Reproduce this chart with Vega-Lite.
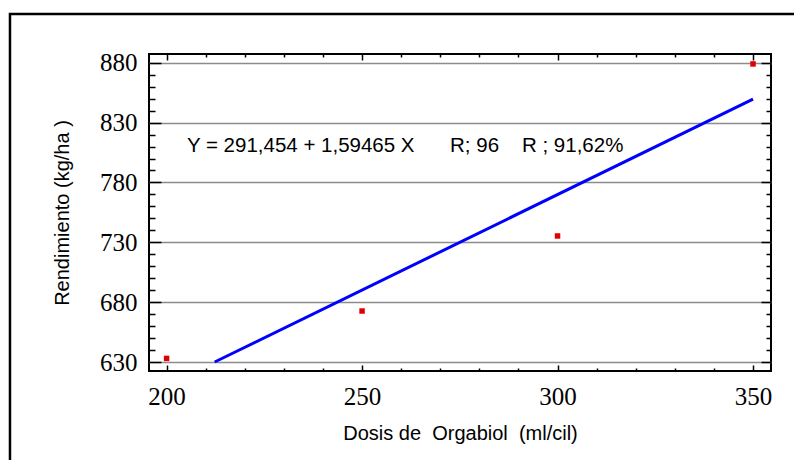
{
  "$schema": "https://vega.github.io/schema/vega-lite/v6.json",
  "width": 622,
  "height": 317,
  "autosize": "none",
  "padding": {"left": 149, "top": 54, "right": 23, "bottom": 89},
  "background": "white",
  "config": {
    "view": {"stroke": "black", "strokeWidth": 2},
    "axis": {
      "labelFont": "Liberation Serif",
      "labelFontSize": 25,
      "labelColor": "black",
      "labelFlush": false,
      "labelOverlap": false,
      "titleFont": "Liberation Sans",
      "titleFontSize": 20,
      "titleFontWeight": "normal",
      "titleColor": "black",
      "tickColor": "black",
      "tickWidth": 1.5,
      "domain": false
    }
  },
  "datasets": {
    "obs": [
      {"dosis": 200, "rend": 633},
      {"dosis": 250, "rend": 672.6},
      {"dosis": 300, "rend": 735.3},
      {"dosis": 350, "rend": 879}
    ],
    "fit": [
      {"dosis": 212.3, "rend": 630},
      {"dosis": 350, "rend": 849.6}
    ]
  },
  "layer": [
    {
      "data": {"name": "fit"},
      "mark": {"type": "line", "color": "#0000ff", "strokeWidth": 3},
      "encoding": {
        "x": {
          "field": "dosis", "type": "quantitative",
          "scale": {"domain": [195.5, 354.6], "nice": false, "zero": false},
          "axis": {
            "orient": "bottom",
            "title": "Dosis de \u00a0Orgabiol \u00a0(ml/cil)",
            "values": [200, 210, 220, 230, 240, 250, 260, 270, 280, 290, 300, 310, 320, 330, 340, 350],
            "labelExpr": "datum.value % 50 === 0 ? datum.label : ''",
            "tickSize": {"condition": {"test": "datum.value % 50 === 0", "value": -6}, "value": -3},
            "labelPadding": 19,
            "titlePadding": 11,
            "grid": false
          }
        },
        "y": {
          "field": "rend", "type": "quantitative",
          "scale": {"domain": [622.5, 887.3], "nice": false, "zero": false},
          "axis": {
            "orient": "left",
            "title": "Rendimiento (kg/ha )",
            "values": [630, 640, 650, 660, 670, 680, 690, 700, 710, 720, 730, 740, 750, 760, 770, 780, 790, 800, 810, 820, 830, 840, 850, 860, 870, 880],
            "labelExpr": "(datum.value - 630) % 50 === 0 ? datum.label : ''",
            "tickSize": {"condition": {"test": "(datum.value - 630) % 50 === 0", "value": -12}, "value": -6},
            "labelPadding": 24,
            "titlePadding": 27,
            "grid": true,
            "gridColor": {"condition": {"test": "(datum.value - 630) % 50 === 0", "value": "#8c8c8c"}, "value": "transparent"},
            "gridWidth": 1.5
          }
        }
      }
    },
    {
      "data": {"name": "obs"},
      "mark": {"type": "square", "color": "#e00000", "filled": true, "opacity": 1, "size": 30},
      "encoding": {
        "x": {
          "field": "dosis", "type": "quantitative",
          "axis": {
            "orient": "top", "labels": false, "title": null, "grid": false,
            "values": [200, 210, 220, 230, 240, 250, 260, 270, 280, 290, 300, 310, 320, 330, 340, 350],
            "tickSize": {"condition": {"test": "datum.value % 50 === 0", "value": -6}, "value": -3}
          }
        },
        "y": {
          "field": "rend", "type": "quantitative",
          "axis": {
            "orient": "right", "labels": false, "title": null, "grid": false,
            "values": [630, 640, 650, 660, 670, 680, 690, 700, 710, 720, 730, 740, 750, 760, 770, 780, 790, 800, 810, 820, 830, 840, 850, 860, 870, 880],
            "tickSize": {"condition": {"test": "(datum.value - 630) % 50 === 0", "value": -10}, "value": -5}
          }
        }
      }
    },
    {
      "data": {"values": [{"label": "Y = 291,454 + 1,59465 X"}]},
      "mark": {"type": "text", "align": "left", "baseline": "alphabetic", "font": "Liberation Sans", "fontSize": 20.5, "color": "black"},
      "encoding": {
        "x": {"datum": 205.2, "type": "quantitative", "axis": null},
        "y": {"datum": 805.8, "type": "quantitative", "axis": null},
        "text": {"field": "label"}
      }
    },
    {
      "data": {"values": [{"label": "R; 96"}]},
      "mark": {"type": "text", "align": "left", "baseline": "alphabetic", "font": "Liberation Sans", "fontSize": 20.5, "color": "black"},
      "encoding": {
        "x": {"datum": 272.5, "type": "quantitative", "axis": null},
        "y": {"datum": 805.8, "type": "quantitative", "axis": null},
        "text": {"field": "label"}
      }
    },
    {
      "data": {"values": [{"label": "R ; 91,62%"}]},
      "mark": {"type": "text", "align": "left", "baseline": "alphabetic", "font": "Liberation Sans", "fontSize": 20.5, "color": "black"},
      "encoding": {
        "x": {"datum": 290.9, "type": "quantitative", "axis": null},
        "y": {"datum": 805.8, "type": "quantitative", "axis": null},
        "text": {"field": "label"}
      }
    },
    {
      "data": {"values": [{"label": "frame"}]},
      "mark": {"type": "rect", "filled": false, "stroke": "black", "strokeWidth": 2.5, "clip": false},
      "encoding": {
        "x": {"datum": 159.94, "type": "quantitative", "axis": null},
        "x2": {"datum": 370},
        "y": {"datum": 920.7, "type": "quantitative", "axis": null},
        "y2": {"datum": 540}
      }
    }
  ],
  "resolve": {"axis": {"x": "independent", "y": "independent"}}
}
